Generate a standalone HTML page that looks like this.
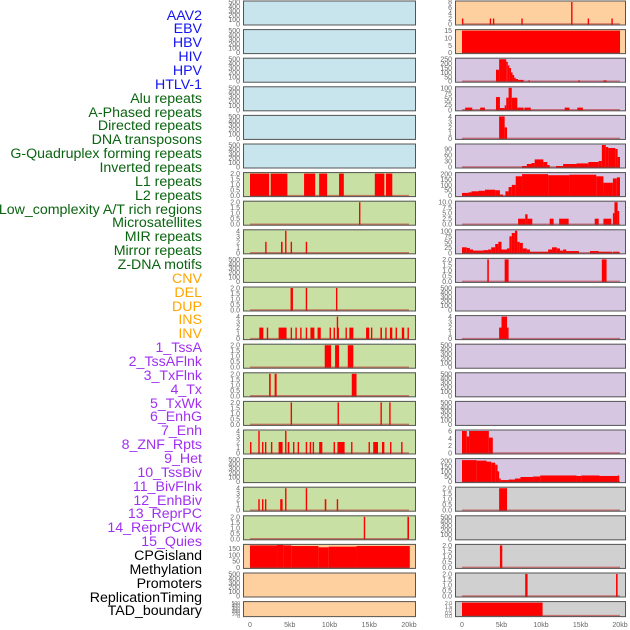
<!DOCTYPE html>
<html><head><meta charset="utf-8">
<style>
body{margin:0;background:#fff;}
#wrap{position:relative;width:630px;height:630px;overflow:hidden;font-family:"Liberation Sans",sans-serif;}
.lbl{position:absolute;right:428px;font-size:14.2px;line-height:14px;white-space:nowrap;text-align:right;}
</style></head>
<body>
<div id="wrap">
<div id="labels"></div>
<svg id="chart" width="630" height="630" style="position:absolute;left:0;top:0"></svg>
</div>
<script>
// ---- track labels ----
const trackNames = ["AAV2","EBV","HBV","HIV","HPV","HTLV-1","Alu repeats","A-Phased repeats","Directed repeats","DNA transposons","G-Quadruplex forming repeats","Inverted repeats","L1 repeats","L2 repeats","Low_complexity A/T rich regions","Microsatellites","MIR repeats","Mirror repeats","Z-DNA motifs","CNV","DEL","DUP","INS","INV","1_TssA","2_TssAFlnk","3_TxFlnk","4_Tx","5_TxWk","6_EnhG","7_Enh","8_ZNF_Rpts","9_Het","10_TssBiv","11_BivFlnk","12_EnhBiv","13_ReprPC","14_ReprPCWk","15_Quies","CPGisland","Methylation","Promoters","ReplicationTiming","TAD_boundary"];
const trackColors = ["#1414f0","#1414f0","#1414f0","#1414f0","#1414f0","#1414f0","#0a6410","#0a6410","#0a6410","#0a6410","#0a6410","#0a6410","#0a6410","#0a6410","#0a6410","#0a6410","#0a6410","#0a6410","#0a6410","#ffa500","#ffa500","#ffa500","#ffa500","#ffa500","#a030f0","#a030f0","#a030f0","#a030f0","#a030f0","#a030f0","#a030f0","#a030f0","#a030f0","#a030f0","#a030f0","#a030f0","#a030f0","#a030f0","#a030f0","#000000","#000000","#000000","#000000","#000000"];

// ---- x axis ----
const xTickValues = [0,5,10,15,20];
const xTickLabels = ["0","5kb","10kb","15kb","20kb"];

// ---- y tick sets ----
const ticks500 = [0,100,200,300,400,500];
const ticks2 = [0,0.5,1.0,1.5,2.0];
const ticks4 = [0,1,2,3,4];

// ---- left column segment data [startKb, endKb, value] ----
const leftL1 = [[0,2.4,2],[2.6,4.7,2],[6.8,8.2,2],[8.7,9.7,2],[11.2,11.8,2],[15.7,16.9,2],[17.1,17.9,2]];
const leftLowComplex = [[13.8,13.8,2]];
const leftMicro = [[2.0,2.0,2],[3.9,4.1,2],[4.5,4.5,4],[5.2,5.2,2],[7.1,7.1,2]];
const leftMirror = [[5.1,5.4,2],[7.1,7.1,2],[10.9,10.9,2]];
const leftZDNA = [[1.17,1.68,2],[2.2,2.2,2],[3.6,4.6,2],[5.2,5.2,2],[5.8,5.8,2],[6.4,6.4,2],[7.1,7.1,2],[7.6,8.1,2],[8.5,8.9,2],[10.1,10.1,2],[10.6,10.6,2],[11.0,11.0,4],[11.1,11.1,2],[12.1,12.1,2],[12.5,13.0,2],[14.6,15.0,2],[15.3,15.3,2],[16.4,16.6,2],[17.1,17.1,2],[17.6,17.9,2],[18.4,18.4,2],[19.1,19.4,2],[19.9,19.9,2]];
const leftCNV = [[9.4,10.2,2],[10.7,11.2,2],[12.3,13.0,2]];
const leftDEL = [[2.4,2.6,2],[3.1,3.35,2],[12.8,13.4,2]];
const leftDUP = [[5.2,5.2,2],[11.1,11.1,2],[16.5,16.5,2],[17.6,17.6,2]];
const leftINS = [[0.09,0.09,2],[1.13,1.13,4],[1.6,1.6,2],[1.97,1.97,2],[2.72,2.72,2],[3.6,4.1,2],[4.5,4.5,4],[4.74,4.95,2],[5.5,5.5,2],[6.08,6.08,2],[7.1,7.1,2],[7.6,7.6,2],[7.97,7.97,2],[8.7,9.1,2],[10.6,10.6,2],[11.0,11.9,2],[12.8,12.8,2],[15.0,15.0,2],[15.5,16.1,2],[16.6,16.9,2],[17.7,17.7,2],[19.1,19.1,2]];
const leftTssA = [[1.13,1.13,2],[1.6,1.6,2],[1.97,1.97,2],[3.8,4.1,2],[4.5,4.5,4],[7.1,7.1,4],[9.4,9.6,2],[11.0,11.0,2]];
const leftFlnk = [[14.4,14.4,2],[19.8,20.0,2]];
const leftCpG = [[0,3.4,175],[3.4,4.2,178],[4.2,5.2,175],[5.2,8.6,170],[8.6,9.9,160],[9.9,13.4,165],[13.4,20.1,170]];

// ---- right column segment data ----
const rightAAV2 = [[0.08,0.08,2],[3.6,3.6,2],[4.0,4.0,2],[7.6,7.6,2],[13.9,13.9,8],[16.0,16.0,2],[19.0,19.0,2]];
const rightEBV = [[0,20.0,15]];
const rightHBV = [[4.3,4.7,130],[4.7,5.6,250],[5.6,5.8,220],[5.8,6.0,180],[6.0,6.2,150],[6.2,6.4,100],[6.4,6.6,70],[6.6,6.8,40],[6.8,7.1,25],[7.1,7.8,15],[8.4,8.6,10],[14.7,14.9,10],[17.9,18.3,10]];
const rightHIV = [[0.4,1.3,10],[2.3,2.9,10],[4.3,4.8,58],[4.8,5.4,8],[5.4,5.6,20],[5.6,5.9,55],[5.9,6.3,100],[6.3,7.0,55],[7.0,7.8,10],[7.9,8.7,10],[13.0,13.6,10],[14.6,15.3,10]];
const rightHPV = [[4.7,5.4,4],[5.4,5.7,2]];
const rightHTLV = [[7.6,8.2,5],[8.2,8.8,15],[8.8,9.2,20],[9.2,10.3,38],[10.3,10.8,25],[10.8,11.1,10],[11.9,12.8,5],[12.8,14.5,15],[14.5,16.0,18],[16.0,17.3,25],[17.3,17.7,30],[17.7,18.2,110],[18.2,18.5,100],[18.5,19.4,95],[19.4,19.7,90],[19.7,20.0,50]];
const rightAlu = [[0,0.8,25],[0.8,1.2,30],[1.2,2.1,40],[2.1,2.9,45],[2.9,4.2,55],[4.2,4.8,50],[4.8,5.2,10],[5.5,5.9,40],[5.9,6.3,80],[6.3,6.8,100],[6.8,7.6,180],[7.6,10.9,200],[10.9,13.6,190],[13.6,17.0,195],[17.0,17.9,180],[17.9,19.1,120],[19.1,19.6,160],[19.6,20.0,170]];
const rightL2 = [[7.1,8.0,2.5],[8.0,8.3,4.5],[8.3,8.9,2.5],[11.1,11.6,2.5],[12.3,13.5,2.5],[16.8,17.3,2.5],[17.9,18.9,2.5],[19.1,19.3,5],[19.3,19.7,10],[19.7,19.9,6]];
const rightMIR = [[0,0.6,25],[0.6,1.0,22],[1.0,1.4,15],[1.4,2.7,10],[2.7,3.3,12],[3.3,3.7,15],[3.7,4.2,25],[4.2,4.6,40],[4.6,5.0,50],[5.0,5.7,15],[5.7,6.0,20],[6.0,6.3,75],[6.3,6.7,90],[6.7,7.0,100],[7.0,7.3,50],[7.3,7.7,45],[7.7,8.2,20],[8.2,8.6,15],[8.6,10.9,5],[10.9,11.4,15],[11.4,12.0,25],[12.0,12.4,20],[12.4,12.8,10],[12.8,13.2,15],[13.2,14.8,8],[16.2,17.3,8],[17.3,19.0,5],[19.1,19.9,5]];
const rightMirror = [[3.2,3.4,2],[5.4,5.9,2],[17.7,18.3,2]];
const rightZDNA = [[4.7,5.0,2],[5.0,5.7,4],[5.7,5.9,2]];
const rightEnh = [[0,0.6,6],[0.6,0.9,4.5],[0.9,3.4,6],[3.4,3.9,4.2]];
const rightZNF = [[0,1.86,210],[1.86,3.1,205],[3.1,3.7,195],[3.7,4.2,185],[4.2,4.5,165],[4.5,4.7,100],[4.7,4.9,30],[4.9,5.9,15],[5.9,6.7,20],[6.7,7.4,30],[7.4,9.0,45],[9.0,9.9,50],[9.9,14.5,60],[14.5,15.1,55],[15.1,17.4,60],[17.4,19.7,55],[19.7,19.9,60]];
const rightTssBiv = [[4.7,5.7,2]];
const rightEnhBiv = [[4.8,5.1,2]];
const rightReprPC = [[8.0,8.3,2],[19.5,19.7,2]];
const rightTAD = [[0,10.2,2]];

// panel specs: [column, row, background, yMax, ticks, data]
const C_BLUE="#c8e4ec", C_GREEN="#c8e0a4", C_ORANGE="#fecf9f", C_PURPLE="#d6c6e2", C_GRAY="#d0d0d0";
const panels = [
 ["L",0,C_BLUE,500,ticks500,null],["L",1,C_BLUE,500,ticks500,null],["L",2,C_BLUE,500,ticks500,null],
 ["L",3,C_BLUE,500,ticks500,null],["L",4,C_BLUE,500,ticks500,null],["L",5,C_BLUE,500,ticks500,null],
 ["L",6,C_GREEN,2,ticks2,leftL1],["L",7,C_GREEN,2,ticks2,leftLowComplex],["L",8,C_GREEN,4,ticks4,leftMicro],
 ["L",9,C_GREEN,500,ticks500,null],["L",10,C_GREEN,2,ticks2,leftMirror],["L",11,C_GREEN,4,ticks4,leftZDNA],
 ["L",12,C_GREEN,2,ticks2,leftCNV],["L",13,C_GREEN,2,ticks2,leftDEL],["L",14,C_GREEN,2,ticks2,leftDUP],
 ["L",15,C_GREEN,4,ticks4,leftINS],["L",16,C_GREEN,500,ticks500,null],["L",17,C_GREEN,4,ticks4,leftTssA],
 ["L",18,C_GREEN,2,ticks2,leftFlnk],["L",19,C_ORANGE,175,[0,50,100,150],leftCpG],
 ["L",20,C_ORANGE,500,ticks500,null],["L",21,C_ORANGE,500,ticks500,null],
 ["R",0,C_ORANGE,8,[0,2,4,6,8],rightAAV2],["R",1,C_ORANGE,15,[0,5,10,15],rightEBV],
 ["R",2,C_PURPLE,250,[0,50,100,150,200,250],rightHBV],["R",3,C_PURPLE,100,[0,25,50,75,100],rightHIV],
 ["R",4,C_PURPLE,4,ticks4,rightHPV],["R",5,C_PURPLE,110,[0,30,60,90],rightHTLV],
 ["R",6,C_PURPLE,205,[0,50,100,150,200],rightAlu],["R",7,C_PURPLE,10,[0,2.5,5,7.5,10],rightL2],
 ["R",8,C_PURPLE,100,[0,25,50,75,100],rightMIR],["R",9,C_PURPLE,2,ticks2,rightMirror],
 ["R",10,C_PURPLE,500,ticks500,null],["R",11,C_PURPLE,4,ticks4,rightZDNA],
 ["R",12,C_PURPLE,500,ticks500,null],["R",13,C_PURPLE,500,ticks500,null],["R",14,C_PURPLE,500,ticks500,null],
 ["R",15,C_PURPLE,6,[0,2,4,6],rightEnh],["R",16,C_PURPLE,215,[0,50,100,150,200],rightZNF],
 ["R",17,C_GRAY,2,ticks2,rightTssBiv],["R",18,C_GRAY,500,ticks500,null],["R",19,C_GRAY,2,ticks2,rightEnhBiv],
 ["R",20,C_GRAY,2,ticks2,rightReprPC],["R",21,C_GRAY,2,ticks2,rightTAD]
];

const NS="http://www.w3.org/2000/svg";
const svg=document.getElementById('chart');
function mk(tag,attrs,parent){const e=document.createElementNS(NS,tag);for(const k in attrs)e.setAttribute(k,attrs[k]);(parent||svg).appendChild(e);return e;}
const geom={L:{x0:243,x1:416,z:250,k:7.95},R:{x0:455,x1:626,z:462,k:7.9}};
function xScale(col,kb){return geom[col].z+kb*geom[col].k;}
function rowTop(r){return r*28.6+0.5;}
function rowH(r){return r===21?16:25;}
function fmt(t,ticks){return ticks.some(v=>v%1!==0)?t.toFixed(1):String(t);}

// labels
const lab=document.getElementById('labels');
trackNames.forEach((n,i)=>{
  const d=document.createElement('div');
  d.className='lbl';
  d.style.top=(8.5+i*13.86)+'px';
  d.style.color=trackColors[i];
  d.textContent=n;
  
  
  lab.appendChild(d);
});

panels.forEach(p=>{
  const [col,row,bg,ymax,ticks,data]=p;
  const g=geom[col], top=rowTop(row), h=rowH(row);
  const grp=mk('g',{});
  
  
  mk('rect',{x:g.x0,y:top,width:g.x1-g.x0,height:h,fill:bg},grp);
  const bot=top+h-1.5, tp=top+1.5;
  const yS=v=>bot-v/ymax*(bot-tp);
  if(data){
    data.forEach(s=>{
      const xa=xScale(col,s[0]), xb=xScale(col,s[1]);
      const w=Math.max(xb-xa,1.4);
      const r=mk('rect',{x:xa-(xb-xa<1.4?0.7:0),y:yS(s[2]),width:w,height:bot-yS(s[2])+0.5,fill:'#ff0000'},grp);
      
      
    });
    mk('line',{x1:xScale(col,0),x2:xScale(col,20),y1:bot,y2:bot,stroke:'#b22',"stroke-opacity":0.55,"stroke-width":1.5},grp);
  }
  mk('rect',{x:g.x0+0.5,y:top+0.5,width:g.x1-g.x0-1,height:h-1,fill:'none',stroke:'#555','stroke-width':1},grp);
  ticks.forEach(t=>{
    const tx=mk('text',{x:g.x0-3,y:yS(t)+2.5,'text-anchor':'end','font-size':(h<20?5:7),fill:'#666','font-family':'Liberation Sans, sans-serif'},grp);
    tx.textContent=fmt(t,ticks);
    
    
  });
});

['L','R'].forEach(col=>{
  xTickValues.forEach((v,i)=>{
    const tx=mk('text',{x:xScale(col,v),y:627,'text-anchor':'middle','font-size':7,fill:'#666','font-family':'Liberation Sans, sans-serif'});
    tx.textContent=xTickLabels[i];
    
    
  });
});
</script>
</body></html>
